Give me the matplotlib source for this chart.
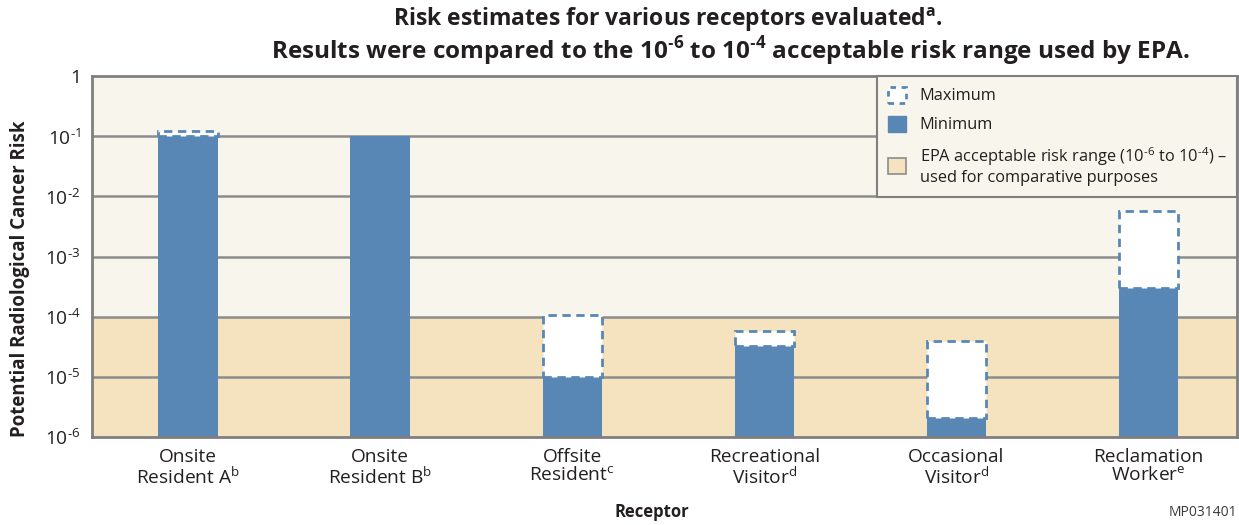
import numpy as np
import matplotlib.pyplot as plt
from matplotlib.patches import Patch
from matplotlib.ticker import FixedLocator, NullLocator

plt.rcParams['font.family'] = ['Open Sans', 'DejaVu Sans']
plt.rcParams['mathtext.fontset'] = 'custom'
plt.rcParams['mathtext.rm'] = 'Open Sans'
plt.rcParams['mathtext.bf'] = 'Open Sans:bold'

# Receptors and their risk estimates
receptors = ['Onsite\nResident A$^{\\mathrm{b}}$', 'Onsite\nResident B$^{\\mathrm{b}}$',
             'Offsite\nResident$^{\\mathrm{c}}$', 'Recreational\nVisitor$^{\\mathrm{d}}$',
             'Occasional\nVisitor$^{\\mathrm{d}}$', 'Reclamation\nWorker$^{\\mathrm{e}}$']
risk_min = [1.0e-1, 1.0e-1, 1.0e-5, 3.2e-5, 2.1e-6, 3.0e-4]
risk_max = [1.2e-1, 1.0e-1, 1.05e-4, 5.8e-5, 3.9e-5, 5.8e-3]
epa_low, epa_high = 1e-6, 1e-4

blue = '#5887b5'
cream = '#f8f5ec'
tan = '#f5e3c0'
grid_gray = '#8c8c8c'
ink = '#231f20'
HY = '\u2010'  # plain hyphen for the exponents


def sup(n, bold=False):
    f = 'mathbf' if bold else 'mathrm'
    return '$^{\\' + f + '{' + HY + str(n) + '}}$'


fig = plt.figure(figsize=(12.39, 5.25), dpi=100)
ax = fig.add_axes([92 / 1239, 88 / 525, 1145 / 1239, 361 / 525])

ax.set_yscale('log')
ax.set_ylim(1e-6, 1)
x = np.arange(len(receptors))
ax.set_xlim(-0.5, 5.46)

# shaded backgrounds: EPA range and above
ax.axhspan(epa_high, 1, color=cream, zorder=0)
ax.axhspan(epa_low, epa_high, color=tan, zorder=0)

ticks = [1e-6, 1e-5, 1e-4, 1e-3, 1e-2, 1e-1, 1]
for t in ticks[1:-1]:
    ax.axhline(t, color=grid_gray, lw=1.8, zorder=1)

# minimum bars, then dashed outline up to the maximum
w = 0.31
ax.bar(x, risk_min, width=w, color=blue, zorder=2)
for xi, lo, hi in zip(x, risk_min, risk_max):
    if hi > lo:
        ax.bar(xi, hi - lo, bottom=lo, width=w, facecolor='white', edgecolor=blue,
               linestyle=(0, (3, 2)), linewidth=2, zorder=3)

ax.yaxis.set_major_locator(FixedLocator(ticks))
ax.yaxis.set_minor_locator(NullLocator())
ax.set_yticklabels(['10' + sup(k) for k in range(6, 0, -1)] + ['1'])
ax.set_xticks(x)
ax.set_xticklabels(receptors, linespacing=1.0)
ax.tick_params(axis='both', length=0, labelsize=13.8, colors=ink, pad=8)
for s in ax.spines.values():
    s.set_color('#7f7f7f')
    s.set_linewidth(2)
    s.set_zorder(5)

ax.set_ylabel('Potential Radiological Cancer Risk', fontsize=13.4, fontweight='bold',
              color=ink)
ax.yaxis.set_label_coords(-0.054, 0.437)
fig.text(652 / 1239, 1 - 512 / 525, 'Receptor', fontsize=12, fontweight='bold',
         color=ink, ha='center', va='center')
fig.text(1237 / 1239, 1 - 512 / 525, 'MP031401', fontsize=10, color='#3a3a3a',
         ha='right', va='center')

fig.text(668 / 1239, 1 - 20 / 525, 'Risk estimates for various receptors evaluated$^{\\mathbf{a}}$.',
         fontsize=16.5, fontweight='bold', color=ink, ha='center', va='center')
fig.text(730 / 1239, 1 - 51 / 525,
         'Results were compared to the 10' + sup(6, True) + ' to 10' + sup(4, True)
         + ' acceptable risk range used by EPA.',
         fontsize=17.5, fontweight='bold', color=ink, ha='center', va='center')

handles = [Patch(facecolor='white', edgecolor=blue, linestyle=(0, (2, 2)), linewidth=2),
           Patch(facecolor=blue, edgecolor=blue),
           Patch(facecolor=tan, edgecolor='#8c8c8c', linewidth=1.2)]
labels = ['Maximum', 'Minimum',
          'EPA acceptable risk range (10' + sup(6) + ' to 10' + sup(4) + ') –\nused for comparative purposes']
leg = ax.legend(handles, labels, loc='upper right', bbox_to_anchor=(1, 1), borderaxespad=0,
                fontsize=11.8, handlelength=1.15, handleheight=1.15, fancybox=False,
                framealpha=1, facecolor=cream, edgecolor='#7f7f7f', labelspacing=0.7,
                borderpad=0.65, handletextpad=0.8)
leg.get_frame().set_linewidth(1.5)
leg.set_zorder(6)
for t in leg.get_texts():
    t.set_color(ink)

fig.savefig('out.png', dpi=100, facecolor='white')
